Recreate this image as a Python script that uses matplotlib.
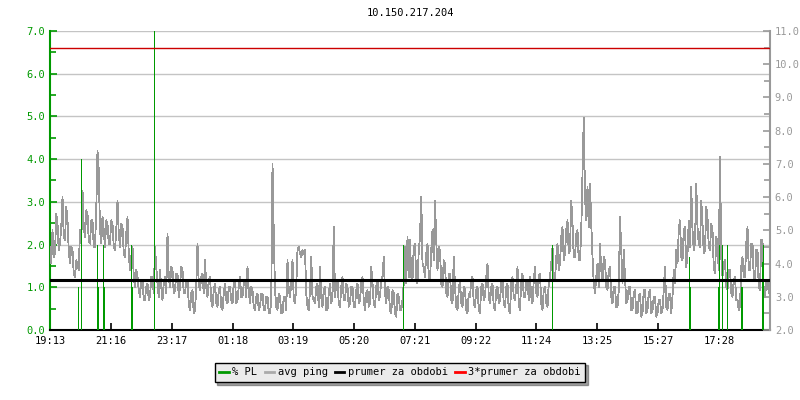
import numpy as np
import matplotlib.pyplot as plt
from matplotlib.lines import Line2D

# avg ping (ms, right axis), one sample every 2.5 minutes, one row per hour from 19:13
ping_ms = [
    4.5, 4.0, 5.0, 4.2, 4.3, 5.5, 5.2, 4.4, 4.6, 5.1, 6.0, 4.8, 4.7, 5.7, 5.3, 4.4, 4.0, 4.5, 4.4, 3.7, 3.6, 4.1, 4.0, 3.8,
    5.0, 4.6, 6.2, 5.1, 4.8, 5.6, 5.5, 4.7, 4.6, 5.3, 5.3, 4.5, 4.5, 5.6, 7.4, 6.8, 5.0, 4.6, 5.4, 5.0, 4.5, 5.3, 5.2, 4.6,
    4.6, 5.3, 5.2, 4.5, 4.4, 5.0, 5.9, 4.9, 4.5, 5.2, 5.1, 4.3, 4.2, 4.9, 5.4, 4.3, 3.8, 4.2, 4.5, 3.6, 3.3, 3.8, 3.6, 3.2,
    3.0, 3.5, 3.5, 2.9, 2.9, 3.3, 3.4, 2.9, 3.0, 3.6, 3.6, 3.1, 4.5, 3.9, 3.4, 3.0, 3.8, 3.3, 2.9, 3.4, 3.6, 3.1, 4.9, 3.6,
    3.3, 3.9, 3.8, 3.1, 3.2, 3.7, 3.7, 3.0, 3.3, 3.9, 3.8, 3.1, 3.1, 3.5, 3.5, 2.8, 2.6, 3.1, 3.2, 2.5, 2.6, 3.3, 4.6, 3.4,
    3.2, 3.6, 3.7, 3.1, 4.1, 3.3, 3.0, 3.5, 3.6, 2.9, 2.7, 3.2, 3.4, 2.8, 2.7, 3.2, 3.3, 2.7, 2.6, 3.1, 3.4, 2.9, 2.8, 3.3,
    3.3, 2.9, 2.8, 3.4, 3.5, 2.8, 2.9, 3.3, 3.6, 3.0, 3.0, 3.4, 3.5, 3.0, 3.9, 3.2, 2.8, 3.3, 3.2, 2.7, 2.6, 3.0, 3.1, 2.6,
    2.7, 3.1, 3.1, 2.6, 2.6, 3.0, 3.0, 2.5, 2.5, 2.9, 7.0, 4.9, 3.2, 2.7, 2.6, 3.1, 3.0, 2.5, 2.5, 3.0, 3.0, 2.6, 4.1, 3.2,
    3.0, 3.4, 4.1, 2.9, 2.8, 3.3, 4.4, 4.5, 4.3, 4.2, 4.4, 4.3, 4.4, 3.1, 2.7, 2.6, 3.2, 4.2, 3.0, 2.9, 2.8, 3.3, 3.4, 2.7,
    3.9, 3.0, 2.7, 3.2, 3.3, 2.6, 2.6, 3.1, 3.4, 2.8, 3.0, 5.1, 3.0, 3.4, 3.5, 2.8, 2.7, 3.3, 3.6, 2.9, 2.9, 3.4, 3.3, 2.7,
    2.8, 3.3, 3.3, 2.7, 2.7, 3.2, 3.4, 2.8, 2.9, 3.4, 3.6, 2.9, 2.6, 3.1, 3.2, 2.7, 2.8, 3.9, 3.4, 2.8, 2.7, 3.3, 3.5, 2.9,
    3.0, 3.5, 3.6, 4.2, 3.1, 2.8, 3.3, 3.2, 2.6, 2.5, 3.2, 3.1, 2.5, 2.4, 3.1, 3.0, 2.6, 2.6, 2.9, 3.4, 4.5, 3.4, 4.8, 3.6,
    4.7, 3.6, 3.5, 4.5, 4.6, 3.5, 3.4, 4.4, 4.8, 6.0, 4.0, 3.9, 3.6, 4.3, 4.6, 3.6, 3.5, 4.4, 5.0, 4.1, 5.9, 4.7, 3.8, 4.5,
    4.4, 3.4, 3.3, 4.1, 4.0, 3.1, 3.0, 3.7, 3.7, 2.9, 2.8, 4.2, 3.3, 2.7, 2.6, 3.2, 3.5, 2.8, 2.7, 3.3, 3.2, 2.6, 2.5, 3.1,
    3.0, 3.5, 3.6, 2.8, 2.7, 3.2, 3.3, 2.6, 2.5, 3.3, 3.4, 2.9, 3.0, 3.6, 4.0, 3.0, 2.8, 3.3, 3.4, 2.7, 2.6, 3.2, 3.3, 2.8,
    2.9, 3.4, 3.5, 2.8, 2.7, 3.3, 3.4, 2.6, 2.5, 3.4, 3.6, 3.0, 2.9, 3.3, 3.9, 2.8, 2.6, 3.5, 3.7, 3.0, 3.0, 3.4, 3.5, 2.9,
    3.6, 3.0, 2.8, 3.5, 3.9, 3.1, 3.0, 3.6, 3.7, 2.8, 2.6, 3.2, 3.3, 2.8, 2.7, 3.4, 3.6, 4.0, 4.5, 3.6, 3.5, 4.2, 4.6, 3.8,
    4.0, 4.8, 5.1, 4.1, 4.3, 5.0, 5.3, 4.3, 4.4, 5.9, 5.2, 4.2, 4.2, 4.9, 5.0, 4.1, 4.1, 5.0, 6.7, 8.4, 6.0, 5.3, 6.3, 5.1,
    6.4, 5.2, 4.2, 3.4, 3.1, 3.6, 4.0, 3.3, 4.6, 3.8, 3.5, 4.2, 4.1, 3.3, 3.2, 3.8, 3.9, 3.0, 2.8, 3.3, 3.3, 2.7, 2.7, 3.2,
    5.4, 4.4, 3.4, 4.4, 3.6, 2.8, 2.9, 3.3, 3.3, 2.6, 2.6, 3.1, 3.2, 2.5, 2.5, 3.0, 3.1, 2.4, 2.5, 3.2, 3.2, 2.5, 2.6, 3.1,
    3.2, 2.5, 2.6, 3.0, 3.0, 2.4, 2.5, 2.9, 2.9, 2.5, 2.6, 3.2, 3.9, 2.7, 2.6, 3.1, 3.1, 2.5, 3.0, 3.8, 3.4, 4.4, 4.0, 5.0,
    5.3, 4.2, 4.1, 5.0, 5.1, 3.9, 4.3, 5.3, 4.5, 6.3, 5.0, 4.4, 4.6, 6.4, 5.1, 4.6, 4.5, 5.9, 5.2, 4.3, 4.4, 5.7, 5.4, 4.5,
    4.4, 5.2, 5.0, 3.9, 3.7, 4.8, 4.6, 3.8, 7.2, 4.2, 3.6, 4.0, 4.1, 3.3, 3.2, 3.8, 3.8, 3.1, 3.0, 3.5, 3.6, 2.9, 2.9, 2.6,
    2.7, 3.9, 4.2, 3.6, 3.6, 4.6, 5.1, 3.8, 3.8, 4.6, 4.6, 3.6, 3.5, 4.4, 4.4, 3.3, 3.2, 4.7, 4.7, 3.1, 3.0, 3.4, 3.5, 3.1,
]

# packet loss spikes (% , left axis): hours since 19:13 and value
pl_hours = [0.933, 1.023, 1.043, 1.567, 1.59, 1.767, 1.79, 2.71, 2.733,
            3.457, 3.477, 11.757, 11.777, 16.723, 16.743, 21.31, 21.333,
            22.277, 22.31, 22.39, 22.41, 22.557, 22.577, 23.043, 23.067,
            23.723, 23.743, 23.777]
pl_values = [1.0, 0.75, 4.0, 2.0, 1.0, 2.0, 1.0, 2.0, 1.0,
             3.5, 7.0, 0.5, 2.0, 2.0, 1.0, 1.7, 1.0,
             1.0, 2.0, 1.0, 2.0, 2.0, 2.0, 1.0, 1.0,
             1.6, 1.6, 2.0]

prumer = 3.5  # average ping over period (ms)

tick_hours = [0, 2.033, 4.077, 6.09, 8.11, 10.14, 12.167, 14.19, 16.21,
              18.243, 20.277, 22.3]
tick_labels = ["19:13", "21:16", "23:17", "01:18", "03:19", "05:20",
               "07:21", "09:22", "11:24", "13:25", "15:27", "17:28"]

GREEN = "#009900"
GRAY = "#999999"
RED = "#cc0000"
FONT = "DejaVu Sans Mono"
FS = 7.5

plt.rcParams["font.family"] = FONT

fig = plt.figure(figsize=(8, 4), dpi=100)
ax = fig.add_axes([0.0625, 0.175, 0.9, 0.7475])
ax2 = ax.twinx()

ping_t = np.arange(len(ping_ms)) / 24.0

# grid on left (PL) scale
ax.set_ylim(0, 7)
ax.set_xlim(0, 24)
ax.set_yticks(np.arange(0, 7.01, 1.0))
ax.set_yticks(np.arange(0.5, 7, 1.0), minor=True)
ax.yaxis.set_major_formatter(plt.FuncFormatter(lambda v, p: f"{v:.1f}"))
ax.grid(True, axis="y", color="#c4c4c4", linewidth=1.0)
ax.set_axisbelow(True)
ax.set_xticks(tick_hours)
ax.set_xticklabels(tick_labels)

ax2.set_ylim(2, 11)
ax2.set_yticks(np.arange(2, 11.01, 1.0))
ax2.set_yticks(np.arange(2.5, 11, 1.0), minor=True)
ax2.yaxis.set_major_formatter(plt.FuncFormatter(lambda v, p: f"{v:.1f}"))

# series (no antialiasing, like the rrd rendering)
ax2.plot(ping_t, ping_ms, color=GRAY, linewidth=0.6, antialiased=False,
         zorder=2)
ax2.vlines(pl_hours, 0, pl_values, colors=GREEN, linewidth=0.6,
           antialiased=False, transform=ax.transData, zorder=3)
ax2.axhline(prumer, color="black", linewidth=2.2, zorder=4)
ax2.axhline(3 * prumer, color=RED, linewidth=1.0, zorder=4)

# spines and ticks
for a in (ax, ax2):
    a.spines["top"].set_visible(False)
ax.spines["left"].set_color(GREEN)
ax.spines["left"].set_linewidth(1.5)
ax.spines["right"].set_visible(False)
ax.spines["bottom"].set_linewidth(1.5)
ax2.spines["left"].set_visible(False)
ax2.spines["bottom"].set_visible(False)
ax2.spines["right"].set_color(GRAY)
ax2.spines["right"].set_linewidth(1.5)

ax.tick_params(axis="y", which="both", direction="in", color=GREEN,
               labelcolor=GREEN, labelsize=FS, width=1.2)
ax.tick_params(axis="y", which="major", length=5)
ax.tick_params(axis="y", which="minor", length=4)
ax.tick_params(axis="x", direction="in", length=5, width=1.2,
               labelsize=FS, pad=4)
ax2.tick_params(axis="y", which="both", direction="in", color=GRAY,
                labelcolor=GRAY, labelsize=FS, width=1.2)
ax2.tick_params(axis="y", which="major", length=5)
ax2.tick_params(axis="y", which="minor", length=4)

fig.text(0.5125, 0.9675, "10.150.217.204", ha="center", va="center",
         fontsize=FS)

handles = [
    Line2D([], [], color=GREEN, linewidth=2),
    Line2D([], [], color="#aaaaaa", linewidth=2),
    Line2D([], [], color="black", linewidth=2),
    Line2D([], [], color="#ff0000", linewidth=2),
]
labels = ["% PL", "avg ping", "prumer za obdobi", "3*prumer za obdobi"]
leg = fig.legend(handles, labels, loc="center", bbox_to_anchor=(0.5, 0.069),
                 ncol=4, fontsize=FS, frameon=True, fancybox=False,
                 shadow=True, handlelength=0.9, handletextpad=0.35,
                 columnspacing=0.7, borderpad=0.45)
leg.get_frame().set_facecolor("#ebebeb")
leg.get_frame().set_edgecolor("black")
leg.get_frame().set_linewidth(1.0)
leg.get_frame().set_alpha(1.0)

fig.savefig("out.png", dpi=100)
